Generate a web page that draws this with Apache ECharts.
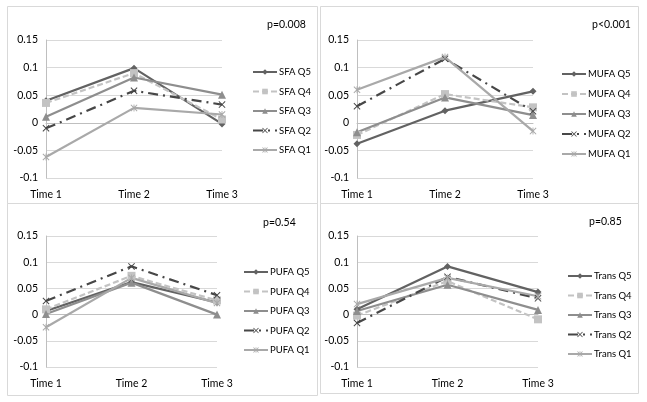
<!DOCTYPE html>
<html><head><meta charset="utf-8">
<script src="https://cdn.jsdelivr.net/npm/echarts@6/dist/echarts.min.js"></script>
<style>html,body{margin:0;padding:0;background:#fff}#c{width:647px;height:402px}</style>
</head><body><div id="c"></div>
<script>
const categories = ['Time 1', 'Time 2', 'Time 3'];
const quintiles = ['Q5', 'Q4', 'Q3', 'Q2', 'Q1'];
const yTicks = ['-0.1', '-0.05', '0', '0.05', '0.1', '0.15'];
// values per quintile (Q5, Q4, Q3, Q2, Q1) at Time 1..3
const sfaValues = [
  [0.040, 0.099, -0.002],
  [0.036, 0.090, 0.006],
  [0.011, 0.082, 0.051],
  [-0.010, 0.058, 0.033],
  [-0.062, 0.027, 0.015]
];
const mufaValues = [
  [-0.038, 0.022, 0.057],
  [-0.022, 0.052, 0.028],
  [-0.017, 0.046, 0.014],
  [0.030, 0.116, 0.021],
  [0.060, 0.119, -0.015]
];
const pufaValues = [
  [0.007, 0.062, 0.023],
  [0.010, 0.074, 0.027],
  [0.001, 0.061, 0.000],
  [0.026, 0.092, 0.037],
  [-0.024, 0.070, 0.022]
];
const transValues = [
  [0.010, 0.092, 0.043],
  [-0.002, 0.064, -0.009],
  [0.007, 0.057, 0.009],
  [-0.016, 0.072, 0.031],
  [0.020, 0.070, 0.035]
];
const panelNames = ['SFA', 'MUFA', 'PUFA', 'Trans'];
const pValues = ['p=0.008', 'p<0.001', 'p=0.54', 'p=0.85'];

const allValues = [sfaValues, mufaValues, pufaValues, transValues];

const X = 'path://M1,0 L5,4 L9,0 L10,1 L6,5 L10,9 L9,10 L5,6 L1,10 L0,9 L4,5 L0,1 Z';
const STAR = 'path://M1,0 L5,4 L9,0 L10,1 L6,5 L10,9 L9,10 L5,6 L1,10 L0,9 L4,5 L0,1 Z M4.4,0 L5.6,0 L5.6,10 L4.4,10 Z';
const styles = [
  {color: '#626262', symbol: 'diamond', size: 7, type: 'solid'},
  {color: '#c3c3c3', symbol: 'rect', size: 8, type: [6, 3]},
  {color: '#8e8e8e', symbol: 'triangle', size: 8, type: 'solid'},
  {color: '#474747', symbol: X, size: 7, type: [10, 5, 2, 5]},
  {color: '#a9a9a9', symbol: STAR, size: 7, type: 'solid'}
];

const panels = [
  {box: [7, 6, 310, 197], grid: {left: 46, top: 40, width: 176, height: 138}, legend: {left: 252, top: 67, gap: 9.5}, p: [267, 19]},
  {box: [320, 6, 318, 197], grid: {left: 357, top: 40, width: 176, height: 138}, legend: {left: 561, top: 69, gap: 10}, p: [592, 19]},
  {box: [7, 203, 310, 192], grid: {left: 46, top: 236, width: 171, height: 131}, legend: {left: 243, top: 267, gap: 9.5}, p: [263, 217]},
  {box: [320, 203, 318, 190], grid: {left: 357, top: 236, width: 181, height: 131}, legend: {left: 567, top: 271, gap: 9.5}, p: [589, 216]}
];

const FONT = 'Lato';
const grids = [], xAxes = [], yAxes = [], series = [], legends = [], graphics = [];
panels.forEach((pn, i) => {
  grids.push(pn.grid);
  xAxes.push({
    type: 'category', gridIndex: i, data: categories, boundaryGap: false,
    axisLine: {lineStyle: {color: '#bfbfbf'}}, axisTick: {show: false},
    axisLabel: {color: '#000', fontFamily: FONT, fontSize: 10.5, margin: 11}
  });
  yAxes.push({
    type: 'value', gridIndex: i, min: -0.1, max: 0.15, interval: 0.05,
    axisLine: {show: true, lineStyle: {color: '#bfbfbf'}}, axisTick: {show: false},
    splitLine: {lineStyle: {color: '#d9d9d9'}},
    axisLabel: {color: '#000', fontFamily: FONT, fontSize: 10.5, margin: 8,
      formatter: v => yTicks.find(t => Math.abs(parseFloat(t) - v) < 1e-9) || ''}
  });
  const names = [];
  quintiles.forEach((q, k) => {
    const st = styles[k];
    const name = panelNames[i] + ' ' + q;
    names.push(name);
    series.push({
      type: 'line', name, xAxisIndex: i, yAxisIndex: i,
      data: allValues[i][k],
      symbol: st.symbol, symbolSize: st.size, showAllSymbol: true,
      lineStyle: {color: st.color, width: 2.2, type: st.type},
      itemStyle: {color: st.color},
      emphasis: {disabled: true}, animation: false
    });
  });
  legends.push({
    data: names, orient: 'vertical', left: pn.legend.left, top: pn.legend.top,
    itemGap: pn.legend.gap, itemWidth: 24, itemHeight: 7, padding: 0,
    textStyle: {fontFamily: FONT, fontSize: 9.5, color: '#000', padding: [0, 0, 0, -3]},
    selectedMode: false
  });
  graphics.push({
    type: 'rect', shape: {x: pn.box[0] + 0.5, y: pn.box[1] + 0.5, width: pn.box[2], height: pn.box[3]},
    style: {fill: 'none', stroke: '#d9d9d9', lineWidth: 1}, silent: true
  });
  graphics.push({
    type: 'text', left: pn.p[0], top: pn.p[1],
    style: {text: pValues[i], font: '10.5px ' + FONT, fill: '#000'}, silent: true
  });
});

const chart = echarts.init(document.getElementById('c'), null, {renderer: 'canvas'});
chart.setOption({
  animation: false,
  backgroundColor: '#fff',
  grid: grids, xAxis: xAxes, yAxis: yAxes, series, legend: legends, graphic: graphics
});
</script></body></html>
